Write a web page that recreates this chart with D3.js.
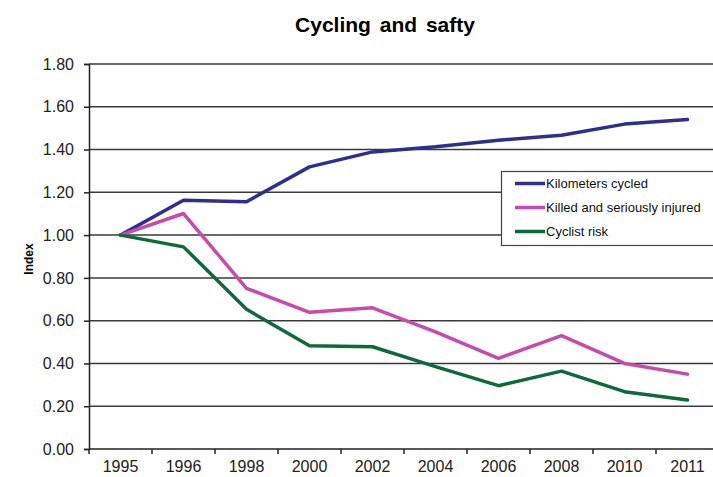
<!DOCTYPE html>
<html>
<head>
<meta charset="utf-8">
<script src="https://cdn.jsdelivr.net/npm/d3@7"></script>
<style>
html,body{margin:0;padding:0;background:#fff;}
svg{display:block;font-family:"Liberation Sans",Arial,sans-serif;}
</style>
</head>
<body>
<svg id="chart" width="713" height="477"></svg>
<script>
const years = ["1995","1996","1998","2000","2002","2004","2006","2008","2010","2011"];
const kmCycled = [1.00,1.163,1.156,1.319,1.389,1.413,1.444,1.467,1.519,1.541];
const killedInjured = [1.00,1.101,0.751,0.639,0.660,0.548,0.424,0.530,0.400,0.350];
const cyclistRisk = [1.00,0.945,0.653,0.483,0.478,0.385,0.296,0.364,0.268,0.229];
const seriesNames = ["Kilometers cycled","Killed and seriously injured","Cyclist risk"];
const seriesColors = ["#2e2f8f","#c94aa8","#0b6b3a"];
const yTicks = [0,0.2,0.4,0.6,0.8,1.0,1.2,1.4,1.6,1.8];
const chartTitle = "Cycling and safty";
const yTitle = "Index";

const series = [kmCycled, killedInjured, cyclistRisk].map((v,i)=>({name:seriesNames[i],color:seriesColors[i],values:v}));

const svg = d3.select("#chart");
const pLeft = 89, pRight = 719, pTop = 64, pBottom = 449;
const x = d3.scaleBand().domain(years).range([pLeft,pRight]).padding(0);
const y = d3.scaleLinear().domain([0,1.8]).range([pBottom,pTop]);

// title
svg.append("text").attr("x",385).attr("y",32).attr("text-anchor","middle")
  .attr("font-size",21).attr("font-weight","bold").attr("word-spacing","3px").attr("fill","#000").text(chartTitle);

// gridlines
svg.append("g").selectAll("line").data(yTicks.filter(d=>d>0)).join("line")
  .attr("x1",pLeft).attr("x2",713).attr("y1",d=>y(d)).attr("y2",d=>y(d))
  .attr("stroke","#3a3a3a").attr("stroke-width",1.5);

// y axis
const yAxis = d3.axisLeft(y).tickValues(yTicks).tickFormat(d3.format(".2f")).tickSize(5).tickPadding(10);
const gy = svg.append("g").attr("transform",`translate(${pLeft},0)`).call(yAxis);
gy.select(".domain").attr("stroke","#222").attr("stroke-width",1.5);
gy.selectAll(".tick line").attr("stroke","#222").attr("stroke-width",1.5);
gy.selectAll(".tick text").attr("font-size",16).attr("fill","#222").attr("font-family","Liberation Sans, Arial, sans-serif");

// x axis
const xAxis = d3.axisBottom(x).tickSize(0).tickPadding(12);
const gx = svg.append("g").attr("transform",`translate(0,${pBottom})`).call(xAxis);
gx.select(".domain").remove();
gx.selectAll(".tick text").attr("font-size",16).attr("fill","#222").attr("font-family","Liberation Sans, Arial, sans-serif");
svg.append("line").attr("x1",pLeft).attr("x2",713).attr("y1",pBottom).attr("y2",pBottom).attr("stroke","#222").attr("stroke-width",1.5);
svg.append("g").selectAll("line").data(years.concat(["end"]).map((d,i)=>pLeft+i*x.step())).join("line")
  .attr("x1",d=>d).attr("x2",d=>d).attr("y1",pBottom).attr("y2",pBottom+5)
  .attr("stroke","#222").attr("stroke-width",1.5);

// y title
svg.append("text").attr("transform","translate(33,259) rotate(-90)").attr("text-anchor","middle")
  .attr("font-size",12).attr("font-weight","bold").attr("fill","#000").text(yTitle);

// lines
const line = d3.line().x((d,i)=>x(years[i])+x.bandwidth()/2).y(d=>y(d));
svg.append("g").selectAll("path").data(series).join("path")
  .attr("d",d=>line(d.values)).attr("fill","none").attr("stroke",d=>d.color)
  .attr("stroke-width",3.5).attr("stroke-linejoin","round").attr("stroke-linecap","round");

// legend
const lg = svg.append("g");
lg.append("rect").attr("x",501.5).attr("y",171.5).attr("width",230).attr("height",74)
  .attr("fill","#fff").attr("stroke","#444").attr("stroke-width",1.2);
const items = lg.selectAll("g.item").data(series).join("g").attr("class","item")
  .attr("transform",(d,i)=>`translate(0,${183.5+i*24})`);
items.append("line").attr("x1",515).attr("x2",545).attr("y1",0).attr("y2",0)
  .attr("stroke",d=>d.color).attr("stroke-width",3.5);
items.append("text").attr("x",546).attr("y",4.5).attr("font-size",13).attr("fill","#111")
  .text(d=>d.name);
</script>
</body>
</html>
